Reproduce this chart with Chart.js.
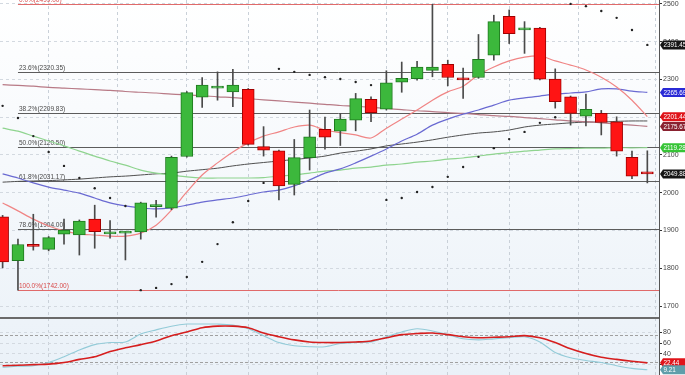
<!DOCTYPE html>
<html>
<head>
<meta charset="utf-8">
<script src="https://cdn.jsdelivr.net/npm/chart.js@4.4.1/dist/chart.umd.min.js"></script>
<style>
  html, body { margin: 0; padding: 0; background: #fff; }
  #wrap { width: 685px; height: 375px; }
  canvas { display: block; }
</style>
</head>
<body>
<div id="wrap"><canvas id="chart" width="685" height="375"></canvas></div>
<script>
// daily candles, oldest first
var OPEN  = [1936, 1820, 1862, 1850, 1890, 1888, 1930, 1891, 1893, 1896, 1963, 1959, 2096, 2253, 2277, 2267, 2274, 2122, 2111, 2022, 2093, 2168, 2163, 2192, 2247, 2221, 2293, 2302, 2324, 2340, 2303, 2305, 2364, 2467, 2431, 2436, 2301, 2254, 2203, 2210, 2188, 2094, 2054];
var HIGH  = [1940, 1877, 1943, 1884, 1930, 1928, 1967, 1926, 1897, 1975, 1980, 2097, 2268, 2305, 2320, 2327, 2276, 2175, 2113, 2141, 2219, 2200, 2210, 2263, 2254, 2323, 2346, 2348, 2499, 2351, 2330, 2419, 2470, 2484, 2453, 2438, 2328, 2256, 2261, 2218, 2201, 2110, 2111];
var LOW   = [1801, 1742, 1848, 1846, 1864, 1835, 1853, 1880, 1822, 1877, 1935, 1955, 2094, 2226, 2245, 2228, 2126, 2097, 1981, 1994, 2060, 2115, 2125, 2164, 2188, 2219, 2266, 2298, 2307, 2283, 2250, 2303, 2351, 2395, 2369, 2299, 2224, 2179, 2177, 2153, 2097, 2037, 2026];
var CLOSE = [1817, 1863, 1858, 1881, 1901, 1925, 1897, 1895, 1896, 1973, 1967, 2094, 2265, 2285, 2281, 2285, 2128, 2113, 2018, 2093, 2148, 2147, 2195, 2249, 2212, 2291, 2303, 2333, 2333, 2305, 2299, 2353, 2453, 2421, 2436, 2301, 2241, 2210, 2221, 2186, 2110, 2044, 2049.88];

// moving averages
var MA_FAST  = [1973, 1952, 1930, 1912, 1899, 1891, 1888, 1885, 1885, 1893, 1914, 1954, 2002, 2047, 2079, 2108, 2132, 2150, 2161, 2174, 2179, 2166, 2159, 2153, 2145, 2171, 2195, 2219, 2245, 2267, 2282, 2312, 2333, 2349, 2359, 2362, 2349, 2338, 2325, 2306, 2280, 2245, 2201.44];
var MA_MID   = [2050, 2039, 2026, 2015, 2007, 1999, 1986, 1973, 1965, 1960, 1957, 1960, 1967, 1975, 1981, 1986, 1994, 2002, 2007, 2018, 2034, 2052, 2063, 2079, 2097, 2116, 2137, 2155, 2179, 2195, 2208, 2219, 2232, 2245, 2251, 2256, 2261, 2264, 2267, 2275, 2275, 2269, 2265.69];
var MA_SLOW  = [2171, 2163, 2150, 2137, 2124, 2110, 2097, 2084, 2073, 2060, 2052, 2047, 2042, 2039, 2039, 2039, 2039, 2040, 2044, 2047, 2052, 2057, 2060, 2065, 2068, 2073, 2076, 2081, 2084, 2089, 2092, 2097, 2102, 2106, 2110, 2113, 2116, 2117, 2118, 2118, 2119, 2119, 2119.28];
var MA_LONG  = [2028, 2030, 2031, 2032, 2034, 2036, 2039, 2042, 2044, 2047, 2050, 2052, 2057, 2061, 2065, 2071, 2076, 2080, 2084, 2088, 2092, 2097, 2105, 2110, 2116, 2124, 2129, 2134, 2140, 2147, 2153, 2158, 2161, 2166, 2174, 2179, 2182, 2185, 2187, 2187, 2189, 2190, 2190];
var MA_TREND = [2286, 2284, 2282, 2279, 2277, 2275, 2273, 2271, 2268, 2266, 2264, 2261, 2259, 2257, 2254, 2252, 2249, 2246, 2243, 2240, 2237, 2234, 2231, 2229, 2226, 2223, 2220, 2217, 2215, 2212, 2210, 2207, 2204, 2202, 2199, 2196, 2193, 2190, 2188, 2185, 2182, 2179, 2175.67];

// parabolic SAR
var SAR = [2230, 2198, 2150, 2108, 2071, 2039, 2012, 1986, 1965, 1742, 1748, 1758, 1777, 1817, 1864, 1922, 1978, 2026, 2328, 2320, 2312, 2306, 2301, 2293, 2285, 1981, 1986, 2002, 2015, 2042, 2068, 2095, 2118, 2142, 2161, 2185, 2200, 2500, 2494, 2481, 2463, 2431, 2391.45];

// stochastic oscillator
var STOCH_K = [14, 16, 17, 23, 34, 47, 57, 61, 62, 77, 85, 92, 96, 96, 96, 94, 87, 74, 61, 55, 53, 53, 59, 61, 62, 72, 81, 87, 83, 76, 68, 66, 68, 70, 72, 62, 42, 32, 27, 23, 17, 12, 9.21];
var STOCH_D = [17, 18, 19, 20, 23, 29, 34, 44, 51, 57, 64, 74, 81, 89, 92, 92, 89, 79, 72, 66, 62, 61, 61, 62, 64, 70, 76, 78, 79, 76, 72, 70, 71, 72, 74, 70, 61, 49, 40, 33, 29, 25.5, 22.44];
var STOCH_TICKS = [20, 40, 60, 80];
var STOCH_BANDS = [25, 75];

// fibonacci retracement, anchored on the low candle
var FIB_START = 1;
var FIB_LEVELS = [2499.00, 2320.35, 2209.83, 2120.50, 2031.17, 1904.00, 1742.00];
var FIB_LABELS = ["0.0%(2499.00)", "23.6%(2320.35)", "38.2%(2209.83)", "50.0%(2120.50)", "61.8%(2031.17)", "78.6%(1904.00)", "100.0%(1742.00)"];

var PRICE_TICKS = [1700, 1800, 1900, 2000, 2100, 2200, 2300, 2400, 2500];
var WEEK_STARTS = [1, 5, 10, 14, 18, 23, 27, 31, 35, 40];

(function () {
  "use strict";

  var FONT = "'Liberation Sans', Arial, sans-serif";
  var UP = "#3cb83c", UP_EDGE = "#1f7a1f";
  var DOWN = "#ff1414", DOWN_EDGE = "#a00000";

  function pts(arr) {
    return arr.map(function (v, i) { return { x: i, y: v }; });
  }

  function isUp(i) { return CLOSE[i] >= OPEN[i]; }

  var bodies = OPEN.map(function (o, i) { return { x: i, y: [o, CLOSE[i]] }; });
  var wicks = LOW.map(function (l, i) { return { x: i, y: [l, HIGH[i]] }; });

  function line(label, data, color, width, axis) {
    return {
      type: "line", label: label, data: pts(data), yAxisID: axis || "y",
      borderColor: color, borderWidth: width, pointRadius: 0, pointHoverRadius: 0,
      tension: 0.3, fill: false
    };
  }

  var backgroundPlugin = {
    id: "bg",
    beforeDraw: function (chart) {
      var ctx = chart.ctx, a = chart.chartArea;
      ctx.save();
      ctx.fillStyle = "#ffffff";
      ctx.fillRect(0, 0, chart.width, chart.height);
      var g = ctx.createLinearGradient(0, a.top, 0, a.bottom);
      g.addColorStop(0, "#ffffff");
      g.addColorStop(1, "#eaf1f8");
      ctx.fillStyle = g;
      ctx.fillRect(a.left, a.top, a.right - a.left, a.bottom - a.top);
      ctx.restore();
    }
  };

  var levelsPlugin = {
    id: "levels",
    beforeDatasetsDraw: function (chart) {
      var ctx = chart.ctx, a = chart.chartArea;
      var ys = chart.scales.y, xs = chart.scales.x, ss = chart.scales.y2;
      var x0 = xs.getPixelForValue(FIB_START);
      ctx.save();
      ctx.font = "6.5px " + FONT;
      ctx.textBaseline = "bottom";
      FIB_LEVELS.forEach(function (v, k) {
        var edge = k === 0 || k === FIB_LEVELS.length - 1;
        var y = Math.round(ys.getPixelForValue(v)) + 0.5;
        ctx.strokeStyle = edge ? "#e06a6a" : "#5c5c5c";
        ctx.lineWidth = 1;
        ctx.beginPath();
        ctx.moveTo(x0, y);
        ctx.lineTo(a.right, y);
        ctx.stroke();
        ctx.fillStyle = edge ? "#d84a4a" : "#4a4a4a";
        ctx.fillText(FIB_LABELS[k], x0 + 1, y - 1.5);
      });
      ctx.setLineDash([3, 2]);
      ctx.strokeStyle = "#a0a0a0";
      STOCH_BANDS.forEach(function (v) {
        var y = Math.round(ss.getPixelForValue(v)) + 0.5;
        ctx.beginPath();
        ctx.moveTo(a.left, y);
        ctx.lineTo(a.right, y);
        ctx.stroke();
      });
      ctx.restore();
    },
    afterDraw: function (chart) {
      var ctx = chart.ctx, a = chart.chartArea, ss = chart.scales.y2;
      ctx.save();
      ctx.strokeStyle = "#6a6a6a";
      ctx.lineWidth = 2;
      ctx.beginPath();
      ctx.moveTo(a.left, ss.top);
      ctx.lineTo(a.right, ss.top);
      ctx.stroke();

      var last = OPEN.length - 1;
      var tags = [
        { axis: "y", v: SAR[last], bg: "#161616", fg: "#fff" },
        { axis: "y", v: MA_MID[last], bg: "#2a2ad6", fg: "#fff" },
        { axis: "y", v: MA_FAST[last], bg: "#e0141a", fg: "#fff" },
        { axis: "y", v: MA_TREND[last], bg: "#8a2230", fg: "#fff" },
        { axis: "y", v: MA_SLOW[last], bg: "#36c436", fg: "#fff" },
        { axis: "y", v: CLOSE[last], bg: "#161616", fg: "#fff" },
        { axis: "y2", v: STOCH_D[last], bg: "#e0141a", fg: "#fff" },
        { axis: "y2", v: STOCH_K[last], bg: "#5f9eaa", fg: "#fff" }
      ];
      ctx.font = "6.3px " + FONT;
      ctx.textBaseline = "middle";
      tags.forEach(function (t) {
        var y = chart.scales[t.axis].getPixelForValue(t.v);
        var x = a.right + 1;
        ctx.fillStyle = t.bg;
        ctx.beginPath();
        ctx.moveTo(x, y);
        ctx.lineTo(x + 3, y - 4.5);
        ctx.lineTo(chart.width + 2, y - 4.5);
        ctx.lineTo(chart.width + 2, y + 4.5);
        ctx.lineTo(x + 3, y + 4.5);
        ctx.closePath();
        ctx.fill();
        ctx.fillStyle = t.fg;
        ctx.fillText(t.v.toFixed(2), x + 3.5, y + 0.5);
      });
      ctx.restore();
    }
  };

  function fixTicks(list) {
    return function (s) { s.ticks = list.map(function (v) { return { value: v }; }); };
  }

  // keep tick labels from pulling the plot area in
  function noPad(width) {
    return function (s) {
      if (width !== undefined) s.width = width; else s.height = 0;
      s.paddingTop = 0; s.paddingBottom = 0; s.paddingLeft = 0; s.paddingRight = 0;
    };
  }

  function axisStyle() {
    return {
      grid: { color: "#d3d9e0", tickColor: "#333", tickLength: 3, tickBorderDash: [] },
      border: { color: "#555", width: 1, dash: [3, 3] },
      ticks: {
        color: "#444", font: { family: FONT, size: 7 }, padding: 1, autoSkip: false,
        callback: function (v) { return String(v); }
      }
    };
  }

  new Chart(document.getElementById("chart"), {
    type: "bar",
    data: {
      datasets: [
        {
          type: "line", label: "SAR", data: pts(SAR), showLine: false,
          pointRadius: 1.2, pointHoverRadius: 0, pointBackgroundColor: "#222", pointBorderWidth: 0
        },
        {
          label: "Body", data: bodies, grouped: false, barThickness: 12, minBarLength: 2,
          borderSkipped: false, borderWidth: 1,
          backgroundColor: OPEN.map(function (o, i) { return isUp(i) ? UP : DOWN; }),
          borderColor: OPEN.map(function (o, i) { return isUp(i) ? UP_EDGE : DOWN_EDGE; })
        },
        {
          label: "Wick", data: wicks, grouped: false, barThickness: 1,
          backgroundColor: "#4a4a4a", borderWidth: 0
        },
        line("MA fast", MA_FAST, "#f08585", 1.2),
        line("MA mid", MA_MID, "#6a6ad2", 1.2),
        line("MA slow", MA_SLOW, "#8fd48f", 1.2),
        line("MA trend", MA_TREND, "#b87a86", 1.2),
        line("MA long", MA_LONG, "#505050", 1),
        line("%D", STOCH_D, "#d61e1e", 1.6, "y2"),
        line("%K", STOCH_K, "#93cbd8", 1.1, "y2")
      ]
    },
    options: {
      responsive: false,
      animation: false,
      events: [],
      layout: { padding: 0, autoPadding: false },
      plugins: { legend: { display: false }, tooltip: { enabled: false } },
      scales: {
        x: {
          type: "linear", min: -0.17, max: 42.76, offset: false,
          afterBuildTicks: fixTicks(WEEK_STARTS),
          afterFit: noPad(),
          ticks: { display: false },
          grid: { color: "#c9d0d8", drawTicks: false },
          border: { display: false, dash: [3, 3] }
        },
        y: Object.assign(axisStyle(), {
          type: "linear", position: "right", stack: "panes", stackWeight: 318,
          min: 1668.3, max: 2510.3,
          afterBuildTicks: fixTicks(PRICE_TICKS),
          afterFit: noPad(26)
        }),
        y2: Object.assign(axisStyle(), {
          type: "linear", position: "right", stack: "panes", stackWeight: 57,
          min: -0.6, max: 107.5,
          afterBuildTicks: fixTicks(STOCH_TICKS),
          afterFit: noPad(26)
        })
      }
    },
    plugins: [backgroundPlugin, levelsPlugin]
  });
})();
</script>
</body>
</html>
